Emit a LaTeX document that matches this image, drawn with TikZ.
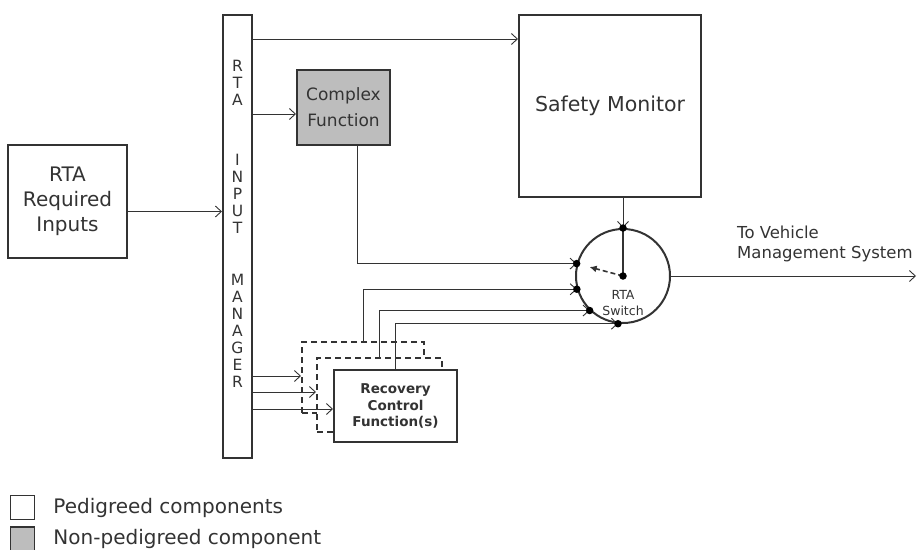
\documentclass[tikz,border=0pt]{standalone}
\usepackage{fontspec}
\setmainfont{DejaVu Sans}
\usetikzlibrary{arrows.meta,positioning,calc}
\definecolor{lc}{HTML}{333333}
\definecolor{nonped}{HTML}{BDBDBD}

\begin{document}
\begin{tikzpicture}[x=1pt, y=-1pt,
    blk/.style={draw=lc, line width=2pt, fill=white, align=center,
                inner sep=0pt, text=lc},
    rcf/.style={blk, minimum width=123pt, minimum height=72pt,
                font=\bfseries\fontsize{13.5}{16.5}\selectfont},
    arr/.style={-{Straight Barb[length=6pt,width=11pt]}, line width=0.9pt, draw=lc},
    dot/.style={circle, fill=black, inner sep=0pt, minimum size=7.5pt},
    legbox/.style={draw=lc, line width=1.5pt, minimum size=24pt, inner sep=0pt}
]
\useasboundingbox (0,0) rectangle (920,549);

% main blocks
\node[blk, minimum width=119pt, minimum height=113pt,
      font=\fontsize{20}{25}\selectfont] (ri) at (67.5,201.5)
    {RTA\\Required\\Inputs};

\node[blk, minimum width=29pt, minimum height=443pt] (mgr) at (237.5,236.5) {};
\node[text=lc, align=center, inner sep=0pt, font=\fontsize{15.5}{17}\selectfont]
    (mgrtxt) at ([yshift=13pt]mgr.center)
    {R\\T\\A\\[43pt]I\\N\\P\\U\\T\\[35pt]M\\A\\N\\A\\G\\E\\R};

\node[blk, fill=nonped, minimum width=93pt, minimum height=75pt,
      font=\fontsize{17}{26}\selectfont] (cf) at (343.5,107.5)
    {Complex\\Function};

\node[blk, minimum width=182pt, minimum height=182pt,
      font=\fontsize{20.5}{24}\selectfont] (sm) at (610,106) {Safety Monitor};

\node[blk, circle, minimum size=94pt] (sw) at (623,276) {};

% recovery control functions
\node[rcf, dashed, dash pattern=on 6pt off 4pt, minimum width=122pt,
      minimum height=71pt] (rb1) at (363,377.5) {};
\node[rcf, dashed, dash pattern=on 6pt off 4pt, minimum width=125pt,
      minimum height=74pt] (rb2) at (379.5,395) {};
\node[rcf] (rb3) at (395.5,406) {Recovery\\Control\\Function(s)};

% inputs to the manager
\coordinate (riout) at ([yshift=-10pt]ri.east);
\draw[arr] (riout) -- (riout -| mgr.west);

% manager outputs
\coordinate (m1) at ([yshift=-25pt]mgr.north east);
\coordinate (m2) at ([yshift=-100pt]mgr.north east);
\coordinate (m3) at ([yshift=83pt]mgr.south east);
\coordinate (m4) at ([yshift=67pt]mgr.south east);
\coordinate (m5) at ([yshift=50pt]mgr.south east);
\draw[arr] (m1) -- (m1 -| sm.west);
\draw[arr] (m2) -- (m2 -| cf.west);
\draw[arr] (m3) -- (m3 -| rb1.west);
\draw[arr] (m4) -- (m4 -| rb2.west);
\draw[arr] (m5) -- (m5 -| rb3.west);

% into the switch
\draw[arr] (sw.north |- sm.south) -- (sw.north);
\draw[arr] ([xshift=14pt]cf.south) |- (sw.165);
\draw[arr] (rb1.north) |- (sw.196);
\draw[arr] (rb2.north) |- (sw.226);
\draw[arr] (rb3.north) |- (sw.264);

% switch internals
\draw[line width=2pt, lc] (sw.north) -- (sw.center);
\draw[dashed, line width=1.6pt, lc, dash pattern=on 5pt off 3pt,
      -{Latex[length=7pt,width=7pt]}]
    (sw.center) -- ($(sw.center)!0.72!(sw.165)$);
\foreach \a in {165,196,226,264}
    \node[dot] at (sw.\a) {};
\node[dot] at (sw.north) {};
\node[dot] at (sw.center) {};
\node[text=lc, align=center, inner sep=0pt, font=\fontsize{12.5}{16}\selectfont]
    (swlbl) at ([yshift=-27pt]sw.center) {RTA\\Switch};

% output
\coordinate (vms) at ([xshift=245pt]sw.east);
\draw[arr] (sw.east) -- (vms);
\node[anchor=south west, align=left, inner sep=0pt, text=lc,
      font=\fontsize{16.5}{20}\selectfont] (vmslbl) at ([xshift=66pt,yshift=14pt]sw.east)
    {To Vehicle\\Management System};

% legend
\node[legbox] (lp) at (22.5,507.5) {};
\node[legbox, fill=nonped] (ln) at (22.5,539) {};
\node[right=18pt of lp, inner sep=0pt, text=lc, font=\fontsize{20}{22}\selectfont]
    (lptxt) {Pedigreed components};
\node[right=18pt of ln, inner sep=0pt, text=lc, font=\fontsize{20}{22}\selectfont]
    (lntxt) {Non-pedigreed component};

\end{tikzpicture}
\end{document}
